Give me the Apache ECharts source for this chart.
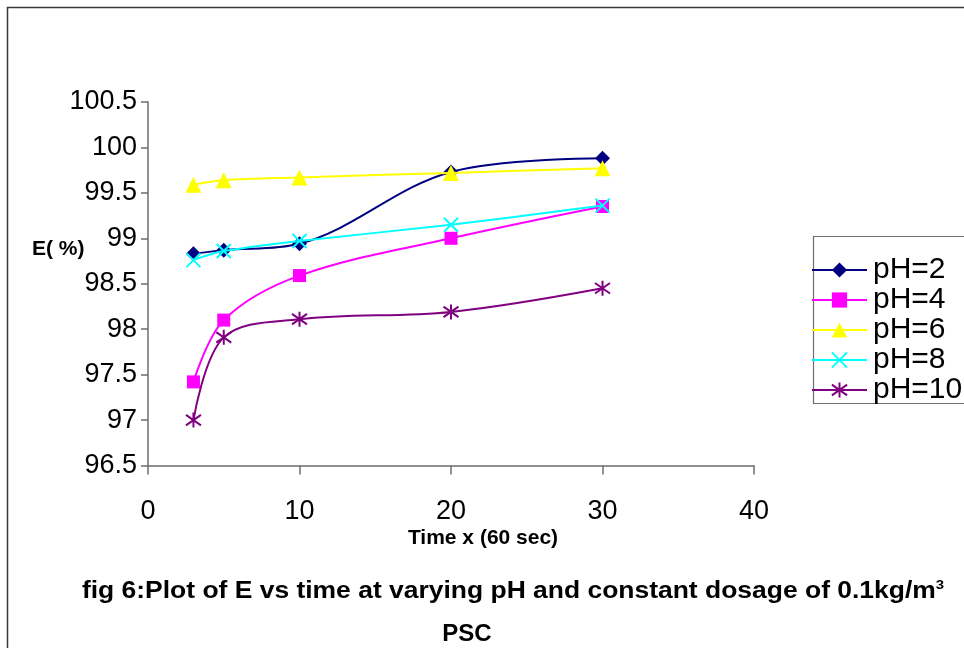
<!DOCTYPE html>
<html>
<head>
<meta charset="utf-8">
<script src="https://cdn.jsdelivr.net/npm/echarts@6/dist/echarts.min.js"></script>
<style>
  html, body { margin: 0; padding: 0; background: #fff; }
  #chart { width: 964px; height: 648px; }
</style>
</head>
<body>
<div id="chart"></div>
<script>
// Contact time (units of 60 s)
const times = [3, 5, 10, 20, 30];

// Removal efficiency E (%) at each pH
const ph2  = [98.83, 98.87, 98.94, 99.73, 99.88];
const ph4  = [97.42, 98.10, 98.59, 99.00, 99.35];
const ph6  = [99.59, 99.64, 99.67, 99.72, 99.77];
const ph8  = [98.76, 98.86, 98.97, 99.15, 99.36];
const ph10 = [97.00, 97.91, 98.11, 98.19, 98.45];

const seriesNames = ['pH=2', 'pH=4', 'pH=6', 'pH=8', 'pH=10'];
const seriesValues = [ph2, ph4, ph6, ph8, ph10];

const FONT = "'Liberation Sans', Arial, sans-serif";
const AXIS_GREY = '#6e6e6e';

// marker styles per series
const markers = [
  { color: '#000080', symbol: 'diamond', size: 15, stroke: 0 },
  { color: '#ff00ff', symbol: 'rect', size: 13, stroke: 0 },
  { color: '#ffff00', symbol: 'triangle', size: 16, stroke: 0 },
  { color: '#00ffff', symbol: 'path://M0,0L10,10M10,0L0,10', size: 14, stroke: 2 },
  { color: '#800080', symbol: 'path://M5,0L5,10M0,1.5L10,8.5M10,1.5L0,8.5', size: 15, stroke: 2 }
];

const series = seriesNames.map((name, i) => ({
  name: name,
  type: 'line',
  smooth: 0.35,
  data: times.map((t, k) => [t, seriesValues[i][k]]),
  symbol: markers[i].symbol,
  symbolSize: markers[i].size,
  showAllSymbol: true,
  lineStyle: { color: markers[i].color, width: 2 },
  itemStyle: {
    color: markers[i].color,
    borderColor: markers[i].color,
    borderWidth: markers[i].stroke
  },
  emphasis: { disabled: true },
  animation: false,
  z: 2 + i
}));

const chart = echarts.init(document.getElementById('chart'), null, { renderer: 'canvas' });

chart.setOption({
  backgroundColor: '#ffffff',
  animation: false,
  grid: { left: 148, top: 102, width: 606, height: 363.5, containLabel: false },
  xAxis: {
    type: 'value',
    min: 0, max: 40, interval: 10,
    axisLine: { show: true, lineStyle: { color: AXIS_GREY, width: 1.5 } },
    axisTick: { show: true, length: 9, inside: false, lineStyle: { color: AXIS_GREY, width: 1.5 } },
    splitLine: { show: false },
    axisLabel: { color: '#000', fontFamily: FONT, fontSize: 27, margin: 33 }
  },
  yAxis: {
    type: 'value',
    min: 96.5, max: 100.5, interval: 0.5,
    axisLine: { show: true, lineStyle: { color: AXIS_GREY, width: 1.5 } },
    axisTick: { show: true, length: 7, inside: false, lineStyle: { color: AXIS_GREY, width: 1.5 } },
    splitLine: { show: false },
    axisLabel: { color: '#000', fontFamily: FONT, fontSize: 27, margin: 11 }
  },
  legend: {
    orient: 'vertical',
    left: 811,
    top: 255,
    padding: 0,
    itemWidth: 55,
    itemHeight: 19,
    itemGap: 0,
    selectedMode: false,
    data: seriesNames,
    textStyle: { color: '#000', fontFamily: FONT, fontSize: 30, lineHeight: 29.7, padding: [0, 0, 0, 1] }
  },
  graphic: [
    {
      type: 'rect', z: 0, silent: true,
      shape: { x: 7.5, y: 7.5, width: 1000, height: 700 },
      style: { fill: 'none', stroke: '#3a3a3a', lineWidth: 1.5 }
    },
    {
      type: 'rect', z: 0, silent: true,
      shape: { x: 813.5, y: 236.5, width: 200, height: 167 },
      style: { fill: '#fff', stroke: AXIS_GREY, lineWidth: 1.2 }
    },
    {
      type: 'text', silent: true,
      x: 32, y: 249,
      style: { text: 'E( %)', fill: '#000', font: 'bold 21px ' + FONT, textAlign: 'left', textVerticalAlign: 'middle' }
    },
    {
      type: 'text', silent: true,
      x: 483, y: 538,
      style: { text: 'Time x (60 sec)', fill: '#000', font: 'bold 21px ' + FONT, textAlign: 'center', textVerticalAlign: 'middle' }
    },
    {
      type: 'text', silent: true,
      x: 513, y: 592,
      scaleX: 1.15,
      style: {
        text: '{a|fig 6:Plot of E vs time at varying pH and constant dosage of 0.1kg/m}{s|3}',
        textAlign: 'center', textVerticalAlign: 'middle',
        rich: {
          a: { fontFamily: FONT, fontWeight: 'bold', fontSize: 23, fill: '#000', lineHeight: 27 },
          s: { fontFamily: FONT, fontWeight: 'bold', fontSize: 13, fill: '#000', verticalAlign: 'top', lineHeight: 27 }
        }
      }
    },
    {
      type: 'text', silent: true,
      x: 467, y: 634,
      style: { text: 'PSC', fill: '#000', font: 'bold 24px ' + FONT, textAlign: 'center', textVerticalAlign: 'middle' }
    }
  ],
  series: series
});
</script>
</body>
</html>
